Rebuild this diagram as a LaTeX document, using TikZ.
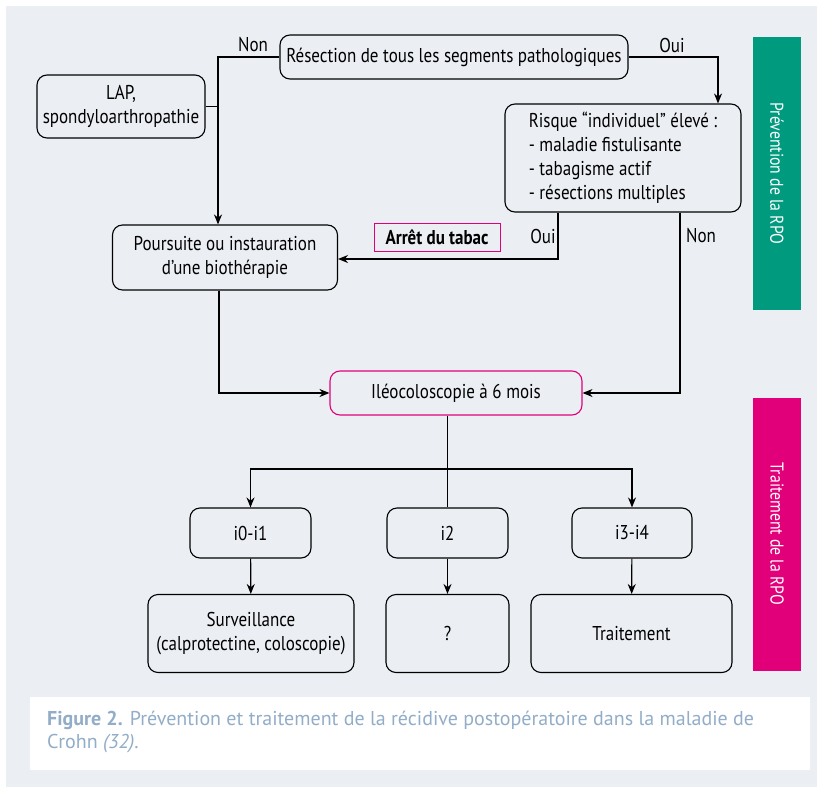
\documentclass[tikz,border=0pt]{standalone}
\usepackage{fontspec}
\setmainfont{PT Sans}[FakeStretch=0.85]
\newfontfamily\capfont{PT Sans}
\usetikzlibrary{arrows.meta}

\definecolor{bggray}{HTML}{EBEEF3}
\definecolor{rpogreen}{HTML}{009A7E}
\definecolor{rpopink}{HTML}{E2007A}
\definecolor{capblue}{HTML}{92ADC8}

\tikzset{
  box/.style={draw,rounded corners=10pt,line width=1.1pt,align=center,inner sep=0pt},
  link/.style={line width=1.2pt},
  arr/.style={link,-{Stealth[length=10pt,width=8pt]}},
  bar/.style={fill=#1,minimum width=273pt,minimum height=48pt,rotate=-90,
    text=white,font=\fontsize{18.5}{20}\selectfont}
}

\begin{document}
\begin{tikzpicture}[x=1pt,y=-1pt,font=\fontsize{20}{24}\selectfont]

  \useasboundingbox (0,0) rectangle (822,787);
  \fill[bggray] (6,6) rectangle (817,787);

  % first row
  \node[box,minimum width=348pt,minimum height=44pt] (res) at (454,57) {R\'esection de tous les segments pathologiques};
  \node[box,minimum width=168pt,minimum height=63pt] (lap) at (121,106.5) {LAP,\\spondyloarthropathie};
  \node[box,minimum width=236pt,minimum height=108pt,align=left] (risk) at (623,158)
    {Risque \textquotedblleft individuel\textquotedblright{} \'elev\'e :\\- maladie fistulisante\\- tabagisme actif\\- r\'esections multiples};

  % second row
  \node[box,minimum width=225pt,minimum height=65pt] (pour) at (225,257.5) {Poursuite ou instauration\\d'une bioth\'erapie};
  \node[draw=rpopink,line width=1pt,minimum width=126pt,minimum height=28pt,inner sep=0pt,font=\fontsize{20}{24}\selectfont\bfseries] (arret) at (437,237) {Arr\^et du tabac};

  \node[box,draw=rpopink,minimum width=252pt,minimum height=44pt] (ileo) at (456,393) {Il\'eocoloscopie \`a 6 mois};

  % scores
  \node[box,minimum width=121pt,minimum height=50pt] (i01) at (250.5,533) {i0-i1};
  \node[box,minimum width=121pt,minimum height=50pt] (i2) at (447.5,533) {i2};
  \node[box,minimum width=120pt,minimum height=50pt] (i34) at (632,533) {i3-i4};

  \node[box,minimum width=206pt,minimum height=78pt] (surv) at (251,633.5) {Surveillance\\(calprotectine, coloscopie)};
  \node[box,minimum width=123pt,minimum height=78pt] (quest) at (447.5,633.5) {?};
  \node[box,minimum width=201pt,minimum height=78pt] (trait) at (631.5,633.5) {Traitement};

  % connectors
  \draw[arr] (res.west) -| ([xshift=-7pt]pour.north) coordinate (nonline);
  \draw[link] (lap.east) -- (lap.east -| nonline);
  \draw[arr] (res.east) -| ([xshift=95pt]risk.north);
  \draw[arr] ([xshift=-65pt]risk.south) |- ([yshift=-1.5pt]pour.east);
  \draw[arr] ([xshift=57pt]risk.south) |- (ileo.east);
  \draw[arr] ([xshift=-6pt]pour.south) |- (ileo.west);

  \path (i2.north |- 0,469) coordinate (split);
  \draw[link] (i2.north |- ileo.south) -- (i2.north);
  \draw[arr] (split) -| (i01.north);
  \draw[arr] (split) -| (i34.north);
  \draw[arr] (i01) -- (surv);
  \draw[arr] (i2) -- (quest);
  \draw[arr] (i34) -- (trait);

  \node (non1) at (253,45) {Non};
  \node (oui1) at (672,45) {Oui};
  \node (oui2) at (543,236) {Oui};
  \node (non2) at (701,236) {Non};

  % side bars
  \node[bar=rpogreen] (prev) at (777,173.5) {Pr\'evention de la RPO};
  \node[bar=rpopink] (trt) at (777,534) {Traitement de la RPO};

  % caption
  \fill[white] (30,697) rectangle (810,770);
  \node[anchor=north west,align=left,inner sep=0pt,text=capblue,font=\capfont\fontsize{20}{23}\selectfont] (cap) at (47,711)
    {\textbf{Figure 2.} Pr\'evention et traitement de la r\'ecidive postop\'eratoire dans la maladie de\\Crohn \textit{(32)}.};

\end{tikzpicture}
\end{document}
